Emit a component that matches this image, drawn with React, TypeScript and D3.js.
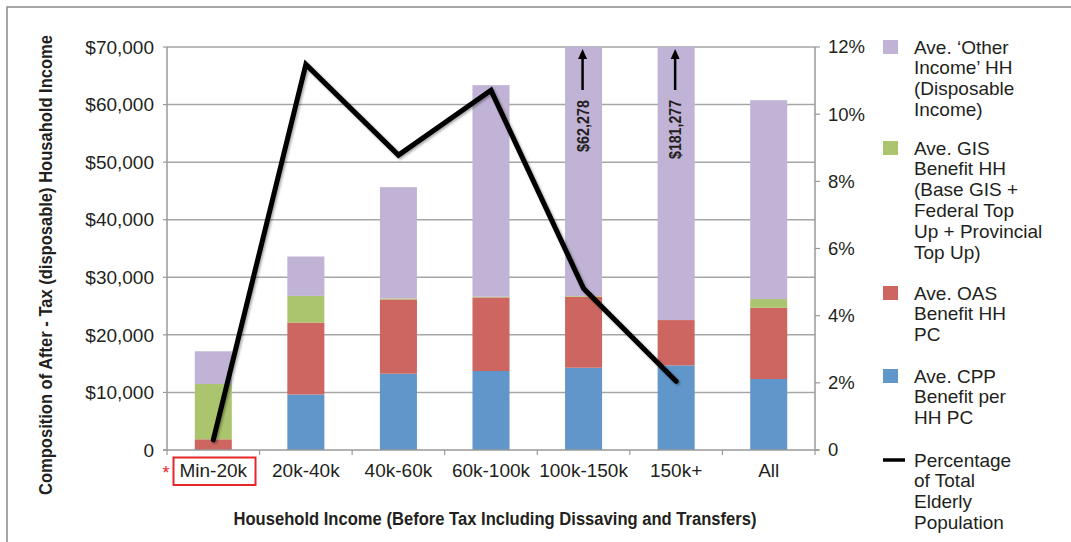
import React, { useLayoutEffect, useRef, useState } from 'react';
import * as d3 from 'd3';

const categories = ['Min-20k', '20k-40k', '40k-60k', '60k-100k', '100k-150k', '150k+', 'All'];
const cppValues = [0, 9640, 13250, 13720, 14290, 14700, 12330];
const oasValues = [1860, 12500, 12910, 12780, 12330, 7870, 12380];
const gisValues = [9600, 4630, 170, 120, 120, 0, 1510];
const otherValues = [5690, 6840, 19330, 36750, 62278, 181277, 34540];
const pctCategories = ['Min-20k', '20k-40k', '40k-60k', '60k-100k', '100k-150k', '150k+'];
const pctValues = [0.3, 11.48, 8.78, 10.71, 4.81, 2.05];
const leftTicks = [0, 10000, 20000, 30000, 40000, 50000, 60000, 70000];
const rightTicks = [0, 2, 4, 6, 8, 10, 12];
const annotatedCategories = ['100k-150k', '150k+'];

const seriesKeys = ['cpp', 'oas', 'gis', 'other'];
const seriesColors: Record<string, string> = {
  cpp: '#6096c9',
  oas: '#cd6660',
  gis: '#abc56f',
  other: '#c0b3d5',
};

const legendItems = [
  { key: 'other', lines: ['Ave. \u2018Other', 'Income\u2019 HH', '(Disposable', 'Income)'] },
  { key: 'gis', lines: ['Ave. GIS', 'Benefit HH', '(Base GIS +', 'Federal Top', 'Up + Provincial', 'Top Up)'] },
  { key: 'oas', lines: ['Ave. OAS', 'Benefit HH', 'PC'] },
  { key: 'cpp', lines: ['Ave. CPP', 'Benefit per', 'HH PC'] },
  { key: 'line', lines: ['Percentage', 'of Total', 'Elderly', 'Population'] },
];

const W = 1071;
const H = 542;
const M = { left: 167, right: 815, top: 47, bottom: 450 };
const TEXT = '#231f20';
const FONT = "'Liberation Sans', Arial, Helvetica, sans-serif";

// Bold text horizontally condensed to a target length (imitates a condensed typeface)
function CondensedText(props: {
  x: number;
  y: number;
  rotate?: number;
  anchor: 'start' | 'middle' | 'end';
  size: number;
  length: number;
  children: string;
}) {
  const ref = useRef<SVGTextElement>(null);
  const [sx, setSx] = useState(0.82);
  useLayoutEffect(() => {
    if (ref.current) {
      const n = ref.current.getComputedTextLength();
      if (n > 0) setSx(props.length / n);
    }
  }, [props.length, props.children, props.size]);
  return (
    <text
      ref={ref}
      transform={`translate(${props.x},${props.y}) rotate(${props.rotate || 0}) scale(${sx},1)`}
      textAnchor={props.anchor}
      fontFamily={FONT}
      fontWeight="bold"
      fontSize={props.size}
      fill={TEXT}
    >
      {props.children}
    </text>
  );
}

export default function App() {
  const x = d3.scaleBand<string>().domain(categories).range([M.left, M.right]).paddingInner(0.6).paddingOuter(0.3);
  const step = x.step();
  const y = d3.scaleLinear().domain([0, 70000]).range([M.bottom, M.top]);
  const yR = d3.scaleLinear().domain([0, 12]).range([M.bottom, M.top]);

  const table = categories.map((c, i) => ({
    cat: c,
    cpp: cppValues[i],
    oas: oasValues[i],
    gis: gisValues[i],
    other: otherValues[i],
  }));
  const stacked = d3.stack<any>().keys(seriesKeys)(table);

  const cx = (c: string) => (x(c) as number) + x.bandwidth() / 2;
  const line = d3.line<number>()
    .x((_, i) => cx(pctCategories[i]))
    .y((d) => yR(d));

  const tickXs = categories.map((c) => (x(c) as number) - step * 0.3).concat([M.right]);
  const fmt = d3.format('$,');

  return (
    <div style={{ position: 'fixed', left: 0, top: 0, width: W, height: H, background: '#fff' }}>
      <svg width={W} height={H} style={{ display: 'block' }}>
        <defs>
          <clipPath id="plotClip">
            <rect x={M.left} y={M.top} width={M.right - M.left} height={M.bottom - M.top} />
          </clipPath>
          <filter id="shadow" x="-10%" y="-10%" width="120%" height="120%">
            <feDropShadow dx="1.5" dy="1.5" stdDeviation="1.2" floodColor="#000" floodOpacity="0.35" />
          </filter>
        </defs>
        <rect x={7} y={7} width={W + 20} height={H + 20} fill="#fff" stroke="#8a8a8a" strokeWidth={1.5} />

        {/* gridlines */}
        {leftTicks.filter((t) => t > 0).map((t) => (
          <line key={t} x1={M.left} x2={M.right} y1={y(t)} y2={y(t)} stroke="#a6a6a6" strokeWidth={1.5} />
        ))}

        {/* bars */}
        <g clipPath="url(#plotClip)">
          {stacked.map((s) => (
            <g key={s.key} fill={seriesColors[s.key]}>
              {s.map((d: any) => (
                <rect
                  key={d.data.cat}
                  x={x(d.data.cat)}
                  width={x.bandwidth()}
                  y={y(d[1])}
                  height={Math.max(0, y(d[0]) - y(d[1]))}
                />
              ))}
            </g>
          ))}
        </g>

        {/* axes */}
        <line x1={M.left} x2={M.left} y1={M.top} y2={M.bottom} stroke="#999" strokeWidth={1.5} />
        <line x1={M.right} x2={M.right} y1={M.top} y2={M.bottom} stroke="#999" strokeWidth={1.5} />
        <line x1={M.left - 4} x2={M.right + 4} y1={M.bottom} y2={M.bottom} stroke="#999" strokeWidth={1.5} />
        {leftTicks.map((t) => (
          <g key={t}>
            <line x1={M.left - 4} x2={M.left} y1={y(t)} y2={y(t)} stroke="#999" strokeWidth={1.2} />
            <text x={154} y={y(t)} dy="0.35em" textAnchor="end" fontFamily={FONT} fontSize={19} fill={TEXT}>
              {t === 0 ? '0' : fmt(t)}
            </text>
          </g>
        ))}
        {rightTicks.map((t) => (
          <g key={t}>
            <line x1={M.right} x2={M.right + 5} y1={yR(t)} y2={yR(t)} stroke="#999" strokeWidth={1.2} />
            <text x={828} y={yR(t)} dy="0.35em" textAnchor="start" fontFamily={FONT} fontSize={18.5} fill={TEXT}>
              {t === 0 ? '0' : `${t}%`}
            </text>
          </g>
        ))}
        {tickXs.map((tx, i) => (
          <line key={i} x1={tx} x2={tx} y1={M.bottom} y2={M.bottom + 5} stroke="#999" strokeWidth={1.2} />
        ))}
        {categories.map((c) => (
          <text key={c} x={cx(c)} y={470} dy="0.35em" textAnchor="middle" fontFamily={FONT} fontSize={19} fill={TEXT}>
            {c}
          </text>
        ))}
        {/* highlight on Min-20k */}
        <rect x={173.5} y={457.5} width={82} height={27.5} fill="none" stroke="#e8262a" strokeWidth={2} />
        <text x={166} y={479} textAnchor="middle" fontFamily={FONT} fontSize={18} fill="#e8262a">*</text>

        {/* line */}
        <path d={line(pctValues) || ''} fill="none" stroke="#000" strokeWidth={5} strokeLinejoin="miter" strokeLinecap="round" filter="url(#shadow)" />

        {/* annotations */}
        {annotatedCategories.map((c, k) => {
          const i = categories.indexOf(c);
          const ax = cx(c) - 1;
          return (
            <g key={c}>
              <line x1={ax} x2={ax} y1={90} y2={57} stroke="#000" strokeWidth={2.5} />
              <path d={`M${ax - 4.5},${59} L${ax},${49} L${ax + 4.5},${59} Z`} fill="#000" />
              <CondensedText x={ax + 6} y={100} rotate={-90} anchor="end" size={17} length={k === 0 ? 52 : 59}>
                {fmt(otherValues[i])}
              </CondensedText>
            </g>
          );
        })}

        {/* axis titles */}
        <CondensedText x={52} y={265} rotate={-90} anchor="middle" size={18.5} length={460}>
          Composition of After - Tax (disposable) Housahold Income
        </CondensedText>
        <CondensedText x={495} y={525} anchor="middle" size={18.5} length={523}>
          Household Income (Before Tax Including Dissaving and Transfers)
        </CondensedText>

        {/* legend */}
        {(() => {
          const tops = [47, 148, 293, 376, 460];
          return legendItems.map((item, k) => {
            const ty = tops[k];
            return (
              <g key={item.key}>
                {item.key === 'line' ? (
                  <line x1={883} x2={905} y1={ty} y2={ty} stroke="#000" strokeWidth={3.5} />
                ) : (
                  <rect x={883} y={ty - 7} width={15} height={14} fill={seriesColors[item.key]} />
                )}
                {item.lines.map((l, j) => (
                  <text key={j} x={914} y={ty + j * 20.8} dy="0.35em" fontFamily={FONT} fontSize={19} fill={TEXT}>
                    {l}
                  </text>
                ))}
              </g>
            );
          });
        })()}
      </svg>
    </div>
  );
}
